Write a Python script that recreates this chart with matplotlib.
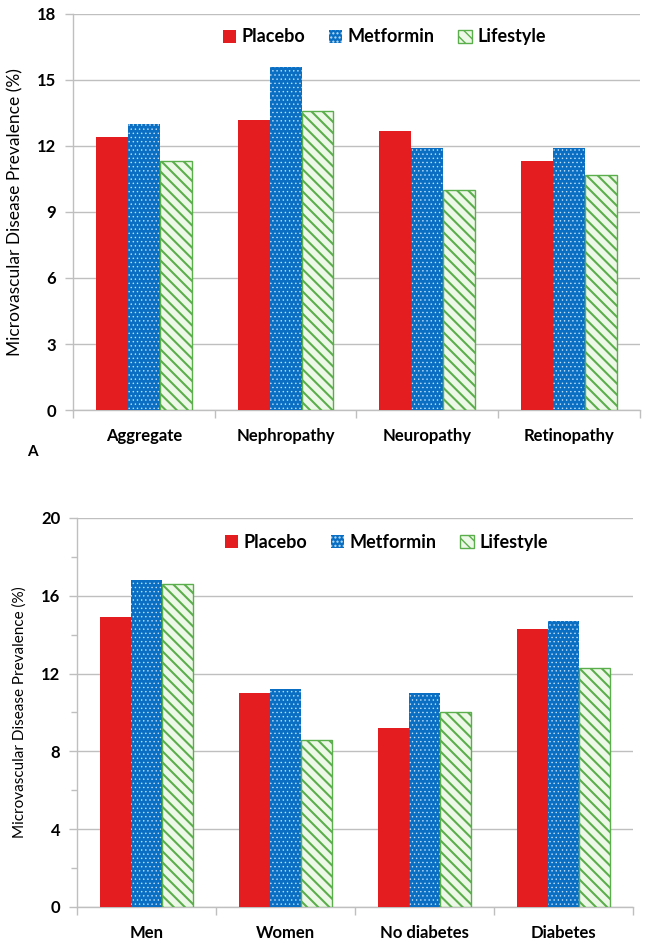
import matplotlib
matplotlib.use("Agg")
import matplotlib.pyplot as plt
from matplotlib.patches import Patch
from matplotlib.ticker import MultipleLocator
import numpy as np

plt.rcParams['font.family'] = ['Lato', 'DejaVu Sans']

series = ["Placebo", "Metformin", "Lifestyle"]

cats_a = ["Aggregate", "Nephropathy", "Neuropathy", "Retinopathy"]
placebo_a = [12.4, 13.2, 12.7, 11.3]
metformin_a = [13.0, 15.6, 11.9, 11.9]
lifestyle_a = [11.3, 13.6, 10.0, 10.7]

cats_b = ["Men", "Women", "No diabetes", "Diabetes"]
placebo_b = [14.9, 11.0, 9.2, 14.3]
metformin_b = [16.8, 11.2, 11.0, 14.7]
lifestyle_b = [16.6, 8.6, 10.0, 12.3]

RED = "#E41E20"
BLUE = "#0A6FC2"
GREEN = "#5BAE4C"
GRID = "#BFBFBF"

styles = [
    dict(facecolor=RED, edgecolor=RED, linewidth=0),
    dict(facecolor=BLUE, edgecolor="#BFE0FA", hatch="....", linewidth=0),
    dict(facecolor="#EEF8E8", edgecolor=GREEN, hatch="\\\\\\", linewidth=1.0),
]
hatch_lw = [1.0, 0.5, 1.5]

fig = plt.figure(figsize=(6.49, 9.43), dpi=100)


def draw(ax, cats, vals, ymax, step, minor, ylabel_size, legend_xy):
    x = np.arange(len(cats))
    w = 0.225
    for i, (v, st) in enumerate(zip(vals, styles)):
        with plt.rc_context({"hatch.linewidth": hatch_lw[i]}):
            ax.bar(x + (i - 1) * w, v, width=w, zorder=3, **st)
    ax.set_xlim(-0.5, len(cats) - 0.5)
    ax.set_ylim(0, ymax)
    ax.yaxis.set_major_locator(MultipleLocator(step))
    if minor:
        ax.yaxis.set_minor_locator(MultipleLocator(step / 2))
        ax.tick_params(axis="y", which="minor", length=4, color=GRID, width=1)
    ax.grid(axis="y", color=GRID, linewidth=1.0, zorder=0)
    ax.set_axisbelow(True)
    for s in ["top", "right"]:
        ax.spines[s].set_visible(False)
    for s in ["left", "bottom"]:
        ax.spines[s].set_color(GRID)
        ax.spines[s].set_linewidth(1.0)
    ax.set_xticks(x)
    ax.set_xticklabels(cats, fontsize=12, fontweight="bold")
    ax.tick_params(axis="x", which="major", length=0, pad=13)
    ax.set_xticks(np.arange(len(cats) + 1) - 0.5, minor=True)
    ax.tick_params(axis="x", which="minor", length=6, color=GRID, width=1)
    ax.tick_params(axis="y", which="major", length=6, color=GRID, width=1,
                   labelsize=12, pad=6)
    for lab in ax.get_yticklabels():
        lab.set_fontweight("bold")
    ax.set_ylabel("Microvascular Disease Prevalence (%)", fontsize=ylabel_size, labelpad=10)
    handles = []
    for i, st in enumerate(styles):
        with plt.rc_context({"hatch.linewidth": hatch_lw[i]}):
            handles.append(Patch(**st))
    fig.legend(handles, series, loc="center", bbox_to_anchor=legend_xy,
               ncol=3, frameon=False, prop=dict(size=13, weight="bold"),
               handlelength=0.75, handleheight=0.75, handletextpad=0.3,
               columnspacing=1.3)


ax1 = fig.add_axes([0.1125, 0.5652, 0.8735, 0.42])
draw(ax1, cats_a, [placebo_a, metformin_a, lifestyle_a], 18, 3, False, 12.5, (0.592, 0.9608))
fig.text(27 / 649, 1 - 452 / 943, "A", fontsize=11, fontweight="bold", ha="left", va="center")

ax2 = fig.add_axes([0.1186, 0.0382, 0.8567, 0.4125])
draw(ax2, cats_b, [placebo_b, metformin_b, lifestyle_b], 20, 4, True, 11, (0.595, 0.4252))

fig.savefig("out.png", dpi=100)
